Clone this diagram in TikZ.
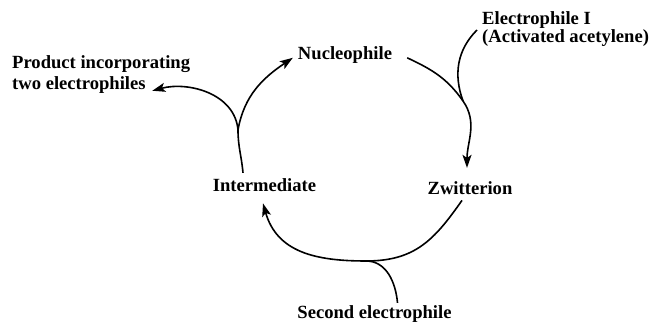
\documentclass[tikz,border=0pt]{standalone}
\usepackage{fontspec}
\setmainfont{Liberation Serif}
\usetikzlibrary{arrows.meta}
\begin{document}
\begin{tikzpicture}[x=1pt, y=1pt,
    txt/.style={inner sep=0pt, font=\fontsize{18.6}{21}\selectfont\bfseries},
    feed/.style={line width=1.6pt},
    flow/.style={feed, -{Stealth[length=13pt, width=9pt, inset=3pt]}}]
  \useasboundingbox (0,0) rectangle (654,323);
  % cycle species
  \node[txt, anchor=base] (nuc) at (345,263) {Nucleophile};
  \node[txt, anchor=base] (zwi) at (470,128) {Zwitterion};
  \node[txt, anchor=base] (int) at (264.5,131) {Intermediate};
  % reagents and product
  \node[txt, anchor=north west, align=left] (elI) at (482,311.5) {Electrophile I\\[-3.5pt](Activated acetylene)};
  \node[txt, anchor=base] (sec) at (374.5,4) {Second electrophile};
  \node[txt, anchor=north west, align=left] (prod) at (12,267.5) {Product incorporating\\two electrophiles};
  % junctions on the cycle
  \coordinate (e1) at (463,222);
  \coordinate (e2) at (366,62);
  \coordinate (e3) at (238,193);
  \draw[flow] ([shift={(15,-2.3)}]nuc.east) to[out=-25, in=125] (e1)
    to[out=-55, in=90] ([shift={(-3,14)}]zwi.north);
  \draw[feed] ([shift={(-5,-18.5)}]elI.north west) to[out=225, in=110] (e1);
  \draw[flow] ([shift={(-8,-5)}]zwi.south) to[out=235, in=0, looseness=1.1] (e2)
    to[out=180, in=-74, looseness=1.1] ([shift={(-1.5,-11)}]int.south);
  \draw[feed] ([shift={(23,3)}]sec.north) to[out=95, in=0] (e2);
  \draw[flow] ([shift={(-21.5,6)}]int.north) to[out=95, in=-90] (e3)
    to[out=80, in=214] ([shift={(-5,-2.3)}]nuc.west);
  \draw[flow] (e3) to[out=95, in=15] ([shift={(-38,3)}]prod.south east);
\end{tikzpicture}
\end{document}
